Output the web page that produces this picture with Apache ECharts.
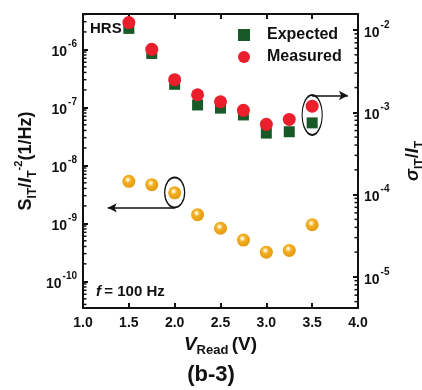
<!DOCTYPE html>
<html>
<head>
<meta charset="utf-8">
<script src="https://cdn.jsdelivr.net/npm/echarts@6/dist/echarts.min.js"></script>
<style>
  html, body { margin: 0; padding: 0; background: #fff; }
  #chart { width: 422px; height: 390px; }
</style>
</head>
<body>
<div id="chart"></div>
<script>
// Read voltage (V)
const vRead = [1.5, 1.75, 2.0, 2.25, 2.5, 2.75, 3.0, 3.25, 3.5];
// Normalized noise S_IT / I_T^2 (1/Hz), left axis
const expected = [2.3e-6, 8.5e-7, 2.5e-7, 1.1e-7, 9.7e-8, 7.4e-8, 3.6e-8, 3.8e-8, 5.4e-8];
const measured = [2.9e-6, 1.0e-6, 3.0e-7, 1.65e-7, 1.25e-7, 8.9e-8, 5.1e-8, 6.2e-8, 1.05e-7];
// Relative fluctuation sigma_IT / I_T, right axis
const sigmaRatio = [1.45e-4, 1.32e-4, 1.05e-4, 5.7e-5, 3.9e-5, 2.8e-5, 2.0e-5, 2.1e-5, 4.3e-5];
// Axis ranges and tick labels
const xTicks = ['1.0', '1.5', '2.0', '2.5', '3.0', '3.5', '4.0'];
const leftRange = [Math.pow(10, -10.46), Math.pow(10, -5.39)];
const rightRange = [Math.pow(10, -5.378), Math.pow(10, -1.805)];
const leftDecades = [-10, -9, -8, -7, -6];
const rightDecades = [-5, -4, -3, -2];
// Callouts: ellipse centres and arrow ends
const leftCallout = { at: [2.0, 1.06e-4], arrowY: 6.9e-5, arrowToX: 1.27 };
const rightCallout = { at: [3.5, 7.4e-8], arrowY: 1.6e-7, arrowToX: 3.89 };

const FONT = '"Liberation Sans", Arial, sans-serif';

function minorValues(range) {
  const out = [];
  const lo = Math.floor(Math.log10(range[0]));
  const hi = Math.ceil(Math.log10(range[1]));
  for (let k = lo; k <= hi; k++) {
    for (let m = 2; m <= 9; m++) {
      const v = m * Math.pow(10, k);
      if (v > range[0] && v < range[1]) out.push(v);
    }
  }
  return out;
}

function powLabel(decades) {
  return function (v) {
    const e = Math.round(Math.log10(v));
    if (Math.abs(Math.log10(v) - e) > 1e-6 || decades.indexOf(e) < 0) return '';
    return '{b|10}{s|' + e + '}';
  };
}

const labelRich = {
  b: { fontFamily: FONT, fontWeight: 'bold', fontSize: 14, color: '#111', lineHeight: 20, verticalAlign: 'bottom' },
  s: { fontFamily: FONT, fontWeight: 'bold', fontSize: 10, color: '#111', verticalAlign: 'top', padding: [0, 0, 0, 1] }
};

const nameRich = {
  n: { fontFamily: FONT, fontWeight: 'bold', fontSize: 18, color: '#111', lineHeight: 26, verticalAlign: 'middle' },
  i: { fontFamily: FONT, fontWeight: 'bold', fontStyle: 'italic', fontSize: 18, color: '#111', verticalAlign: 'middle' },
  sub: { fontFamily: FONT, fontWeight: 'bold', fontSize: 12, color: '#111', verticalAlign: 'bottom' },
  sup: { fontFamily: FONT, fontWeight: 'bold', fontSize: 11, color: '#111', verticalAlign: 'top' }
};

function minorTickSeries(values, xVal, yAxisIndex, dir) {
  return {
    type: 'custom',
    xAxisIndex: 0,
    yAxisIndex: yAxisIndex,
    silent: true,
    clip: false,
    z: 1,
    data: values.map(v => [xVal, v]),
    renderItem: function (params, api) {
      const p = api.coord([api.value(0), api.value(1)]);
      return {
        type: 'line',
        shape: { x1: p[0], y1: p[1], x2: p[0] + dir * 3.5, y2: p[1] },
        style: { stroke: '#111', lineWidth: 1.5 }
      };
    }
  };
}

const axisLine = { show: true, onZero: false, lineStyle: { color: '#111', width: 2 } };
const axisTick = { show: true, inside: true, length: 5, lineStyle: { color: '#111', width: 2 } };

const chart = echarts.init(document.getElementById('chart'), null, { renderer: 'canvas' });

chart.setOption({
  animation: false,
  backgroundColor: '#fff',
  grid: { left: 83, right: 64, top: 14, bottom: 82, containLabel: false, outerBoundsMode: 'none' },
  title: {
    text: '(b-3)',
    left: 'center',
    top: 364,
    padding: 0,
    textStyle: { fontFamily: FONT, fontWeight: 'bold', fontSize: 22, color: '#111' }
  },
  legend: {
    orient: 'vertical',
    left: 233,
    top: 22,
    itemWidth: 12,
    itemHeight: 12,
    itemGap: 6,
    data: [
      { name: 'Expected', icon: 'rect' },
      { name: 'Measured', icon: 'circle' }
    ],
    textStyle: { fontFamily: FONT, fontWeight: 'bold', fontSize: 16, color: '#111', padding: [0, 0, 0, 12] }
  },
  graphic: [
    {
      type: 'text', left: 90, top: 21,
      style: { text: 'HRS', fontFamily: FONT, fontWeight: 'bold', fontSize: 15, fill: '#111' }
    },
    {
      type: 'text', left: 96, top: 284,
      style: {
        text: '{i|f} {n|= 100 Hz}',
        rich: {
          i: { fontFamily: FONT, fontWeight: 'bold', fontStyle: 'italic', fontSize: 15, fill: '#111' },
          n: { fontFamily: FONT, fontWeight: 'bold', fontSize: 15, fill: '#111' }
        }
      }
    }
  ],
  xAxis: [
    {
      type: 'value', position: 'bottom', min: 1, max: 4, interval: 0.5,
      axisLine: axisLine, axisTick: axisTick, splitLine: { show: false },
      axisLabel: {
        margin: 8,
        fontFamily: FONT, fontWeight: 'bold', fontSize: 14, color: '#111',
        formatter: v => xTicks[Math.round((v - 1) / 0.5)]
      },
      name: '{i|V}{sub|Read} {n|(V)}',
      nameLocation: 'middle',
      nameGap: 25,
      nameTextStyle: {
        rich: {
          i: { fontFamily: FONT, fontWeight: 'bold', fontStyle: 'italic', fontSize: 19, color: '#111', lineHeight: 24, verticalAlign: 'middle' },
          sub: { fontFamily: FONT, fontWeight: 'bold', fontSize: 13, color: '#111', verticalAlign: 'bottom' },
          n: { fontFamily: FONT, fontWeight: 'bold', fontSize: 19, color: '#111', verticalAlign: 'middle' }
        }
      }
    },
    {
      type: 'value', position: 'top', min: 1, max: 4, interval: 0.5,
      axisLine: axisLine, axisTick: axisTick, axisLabel: { show: false }, splitLine: { show: false }
    }
  ],
  yAxis: [
    {
      type: 'log', position: 'left', logBase: 10,
      min: leftRange[0], max: leftRange[1],
      axisLine: axisLine, axisTick: axisTick, splitLine: { show: false },
      axisLabel: {
        margin: 6, showMinLabel: false, showMaxLabel: false,
        formatter: powLabel(leftDecades), rich: labelRich
      },
      name: '{n|S}{sub|IT}{n|/}{i|I}{sub|T}{sup|-2}{n|(1/Hz)}',
      nameLocation: 'middle',
      nameRotate: 90,
      nameGap: 44,
      nameMoveOverlap: false,
      nameTextStyle: { rich: nameRich }
    },
    {
      type: 'log', position: 'right', logBase: 10,
      min: rightRange[0], max: rightRange[1],
      axisLine: axisLine, axisTick: axisTick, splitLine: { show: false },
      axisLabel: {
        margin: 6, showMinLabel: false, showMaxLabel: false,
        formatter: powLabel(rightDecades), rich: labelRich
      },
      name: '{i|σ}{sub|IT}{n|/}{i|I}{sub|T}',
      nameLocation: 'middle',
      nameRotate: 90,
      nameGap: 42,
      nameTextStyle: { rich: nameRich }
    }
  ],
  series: [
    minorTickSeries(minorValues(leftRange), 1, 0, 1),
    minorTickSeries(minorValues(rightRange), 4, 1, -1),
    {
      name: 'Expected',
      type: 'scatter',
      xAxisIndex: 0, yAxisIndex: 0,
      symbol: 'rect',
      symbolSize: 11,
      itemStyle: { color: '#175a28', opacity: 1 },
      data: vRead.map((v, i) => [v, expected[i]]),
      z: 3
    },
    {
      name: 'Measured',
      type: 'scatter',
      xAxisIndex: 0, yAxisIndex: 0,
      symbol: 'circle',
      symbolSize: 13,
      itemStyle: { color: '#ea1f2b', opacity: 1 },
      data: vRead.map((v, i) => [v, measured[i]]),
      z: 4
    },
    {
      name: 'sigma',
      type: 'scatter',
      xAxisIndex: 0, yAxisIndex: 1,
      symbol: 'circle',
      symbolSize: 13,
      itemStyle: {
        opacity: 1,
        color: new echarts.graphic.RadialGradient(0.42, 0.38, 0.62, [
          { offset: 0, color: '#ffffff' },
          { offset: 0.18, color: '#fbe3a6' },
          { offset: 0.4, color: '#f3ae22' },
          { offset: 1, color: '#e49a0c' }
        ])
      },
      data: vRead.map((v, i) => [v, sigmaRatio[i]]),
      z: 3
    },
    {
      // callout on the left axis group
      type: 'scatter',
      xAxisIndex: 0, yAxisIndex: 0,
      silent: true,
      symbol: 'circle',
      symbolSize: [20, 40],
      itemStyle: { color: 'rgba(0,0,0,0)', borderColor: '#111', borderWidth: 1.5, opacity: 1 },
      data: [rightCallout.at],
      z: 5,
      markLine: {
        silent: true,
        symbol: ['none', 'arrow'],
        symbolSize: [7, 9],
        label: { show: false },
        lineStyle: { color: '#111', width: 1.5, type: 'solid' },
        data: [[
          { coord: [rightCallout.at[0], rightCallout.arrowY] },
          { coord: [rightCallout.arrowToX, rightCallout.arrowY] }
        ]]
      }
    },
    {
      // callout on the right axis group
      type: 'scatter',
      xAxisIndex: 0, yAxisIndex: 1,
      silent: true,
      symbol: 'circle',
      symbolSize: [20, 30],
      itemStyle: { color: 'rgba(0,0,0,0)', borderColor: '#111', borderWidth: 1.5, opacity: 1 },
      data: [leftCallout.at],
      z: 5,
      markLine: {
        silent: true,
        symbol: ['none', 'arrow'],
        symbolSize: [7, 9],
        label: { show: false },
        lineStyle: { color: '#111', width: 1.5, type: 'solid' },
        data: [[
          { coord: [leftCallout.at[0], leftCallout.arrowY] },
          { coord: [leftCallout.arrowToX, leftCallout.arrowY] }
        ]]
      }
    }
  ]
});
</script>
</body>
</html>
